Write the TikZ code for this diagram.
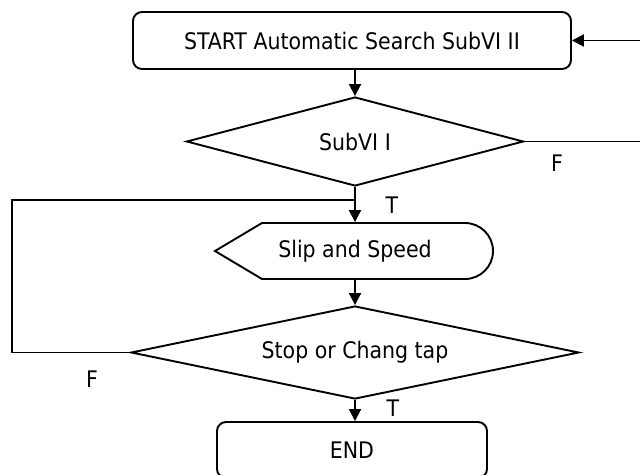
\documentclass[tikz,border=0pt]{standalone}
\usepackage{fontspec}
\setmainfont{DejaVu Sans Condensed}
\usetikzlibrary{shapes.geometric,arrows.meta}
\begin{document}
\begin{tikzpicture}[x=1pt,y=-1pt,
  line width=1.9pt,
  every node/.style={font=\fontsize{22.8}{26}\selectfont},
  arr/.style={-{Triangle[length=12pt,width=12pt]}},
  term/.style={draw,rounded corners=9pt,inner sep=0pt},
  dec/.style={draw,shape=diamond,inner sep=0pt},
  lbl/.style={inner sep=0pt}]
\clip (0,0) rectangle (640,474);
\fill[white] (0,0) rectangle (640,474);
\node[term,minimum width=438pt,minimum height=57pt] (start) at (352,40.5) {START Automatic Search SubVI II};
\node[dec,minimum width=337pt,minimum height=89pt,aspect=3.79] (d1) at (355,141.5) {SubVI I};
% display shape
\draw (215,251) -- (262,223) -- (465,223) arc[start angle=90,end angle=-90,radius=28pt] -- (262,279) -- cycle;
\node[inner sep=0pt,minimum width=200pt,minimum height=56pt] (slip) at (355,251) {Slip and Speed};
\node[dec,minimum width=448pt,minimum height=93pt,aspect=4.8] (d2) at (355,352.5) {Stop or Chang tap};
\node[term,minimum width=270pt,minimum height=56pt] (end) at (352,450) {END};
\coordinate (j1) at (355,200);
\coordinate (rt) at (646,141.5);
\coordinate (lt) at (12,352.5);
% connectors
\draw[arr] (d1.north |- start.south) -- (d1.north);
\draw[arr] (d1.south) -- (slip.north);
\draw[arr] (slip.south) -- (d2.north);
\draw[arr] (d2.south) -- (end.north -| d2.south);
\draw[arr] (d1.east) -- (rt) |- (start.east);
\draw (d2.west) -- (lt) |- (j1);
% labels
\node[lbl] (f1) at (557,163) {F};
\node[lbl] (t1) at (392,205) {T};
\node[lbl] (f2) at (92,379) {F};
\node[lbl] (t2) at (393,408) {T};
\end{tikzpicture}
\end{document}
